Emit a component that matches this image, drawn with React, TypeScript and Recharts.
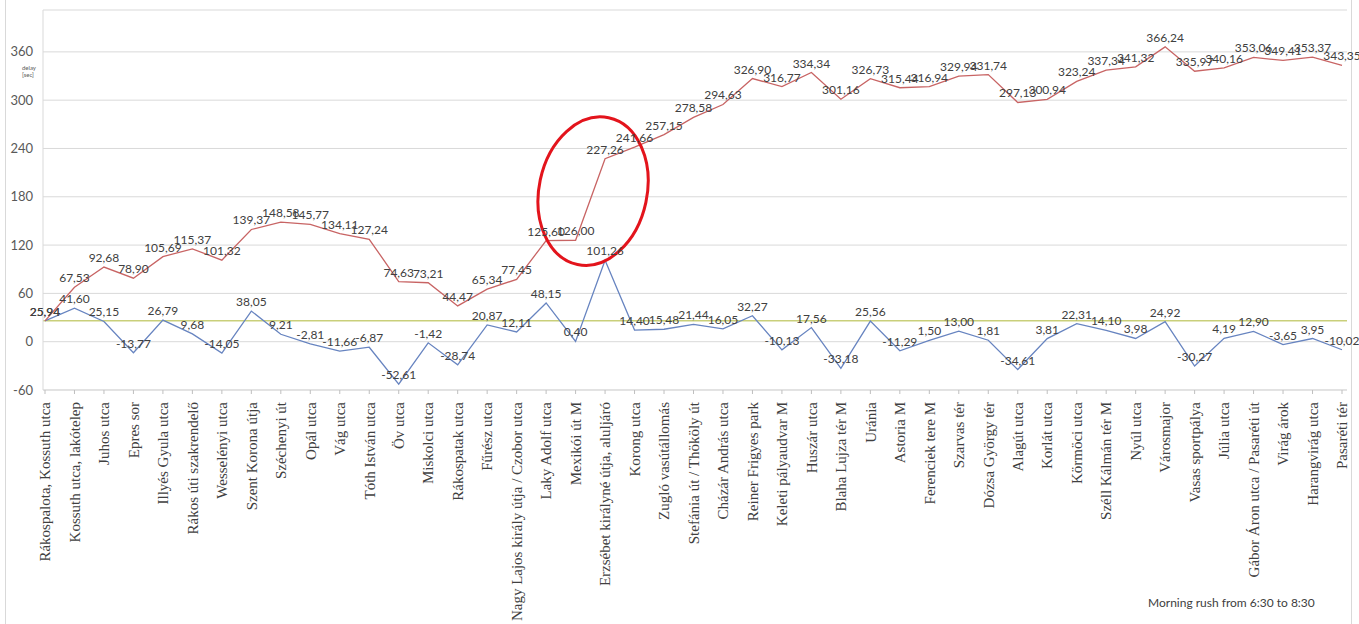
import { LineChart, Line, XAxis, YAxis, CartesianGrid, ReferenceLine, ReferenceDot, LabelList } from "recharts";

// megállók (stops) in order
const stops = [
  "Rákospalota, Kossuth utca",
  "Kossuth utca, lakótelep",
  "Juhos utca",
  "Epres sor",
  "Illyés Gyula utca",
  "Rákos úti szakrendelő",
  "Wesselényi utca",
  "Szent Korona útja",
  "Széchenyi út",
  "Opál utca",
  "Vág utca",
  "Tóth István utca",
  "Öv utca",
  "Miskolci utca",
  "Rákospatak utca",
  "Fűrész utca",
  "Nagy Lajos király útja / Czobor utca",
  "Laky Adolf utca",
  "Mexikói út M",
  "Erzsébet királyné útja, aluljáró",
  "Korong utca",
  "Zugló vasútállomás",
  "Stefánia út / Thököly út",
  "Cházár András utca",
  "Reiner Frigyes park",
  "Keleti pályaudvar M",
  "Huszár utca",
  "Blaha Lujza tér M",
  "Uránia",
  "Astoria M",
  "Ferenciek tere M",
  "Szarvas tér",
  "Dózsa György tér",
  "Alagút utca",
  "Korlát utca",
  "Körmöci utca",
  "Széll Kálmán tér M",
  "Nyúl utca",
  "Városmajor",
  "Vasas sportpálya",
  "Júlia utca",
  "Gábor Áron utca / Pasaréti út",
  "Virág árok",
  "Harangvirág utca",
  "Pasaréti tér",
];

// delay per section (sec)
const sectionDelay = [
  25.94, 41.6, 25.15, -13.77, 26.79, 9.68, -14.05, 38.05, 9.21, -2.81, -11.66, -6.87, -52.61, -1.42, -28.74,
  20.87, 12.11, 48.15, 0.4, 101.26, 14.4, 15.48, 21.44, 16.05, 32.27, -10.13, 17.56, -33.18, 25.56, -11.29,
  1.5, 13.0, 1.81, -34.61, 3.81, 22.31, 14.1, 3.98, 24.92, -30.27, 4.19, 12.9, -3.65, 3.95, -10.02,
];

// cumulated delay (sec)
const totalDelay = [
  25.94, 67.53, 92.68, 78.9, 105.69, 115.37, 101.32, 139.37, 148.58, 145.77, 134.11, 127.24, 74.63, 73.21, 44.47,
  65.34, 77.45, 125.6, 126.0, 227.26, 241.66, 257.15, 278.58, 294.63, 326.9, 316.77, 334.34, 301.16, 326.73, 315.44,
  316.94, 329.94, 331.74, 297.13, 300.94, 323.24, 337.34, 341.32, 366.24, 335.97, 340.16, 353.06, 349.41, 353.37, 343.35,
];

const yTicks = [-60, 0, 60, 120, 180, 240, 300, 360];

const data = stops.map((name, i) => ({
  name,
  section: sectionDelay[i],
  total: totalDelay[i],
}));

const fmt = (v: any) => Number(v).toFixed(2).replace(".", ",");

const StopTick = (props: any) => {
  const { x, y, payload } = props;
  return (
    <g transform={`translate(${x},${y + 6})`}>
      <text
        transform="rotate(-90)"
        textAnchor="end"
        dy="0.35em"
        fontFamily="'Liberation Serif', serif"
        fontSize={15}
        fill="#404040"
      >
        {payload.value}
      </text>
    </g>
  );
};

const Ellipse = (props: any) => {
  const cx = props.cx - 12;
  const cy = props.cy;
  return (
    <ellipse
      cx={cx}
      cy={cy}
      rx={54}
      ry={75}
      transform={`rotate(12 ${cx} ${cy})`}
      fill="none"
      stroke="#e3141c"
      strokeWidth={3}
    />
  );
};

export default function App() {
  return (
    <div style={{ position: "absolute", left: 0, top: 0, width: 1359, height: 624, background: "#fff", fontFamily: "Lato, sans-serif" }}>
      <div style={{ position: "absolute", left: 5, top: 0, width: 1345, height: 624, borderLeft: "1px solid #d9d9d9", borderRight: "1px solid #d9d9d9" }} />
      <LineChart width={1359} height={624} data={data} margin={{ top: 10, right: 12, left: 0, bottom: 0 }}>
        <CartesianGrid vertical={false} stroke="#d9d9d9" />
        <XAxis
          dataKey="name"
          scale="point"
          padding={{ left: 2, right: 5 }}
          interval={0}
          height={234}
          tick={<StopTick />}
          tickSize={4}
          axisLine={{ stroke: "#d9d9d9" }}
          tickLine={{ stroke: "#bfbfbf" }}
        />
        <YAxis
          domain={[-60, 412]}
          ticks={yTicks}
          width={43}
          tickLine={false}
          axisLine={{ stroke: "#d9d9d9" }}
          tick={{ fontSize: 13, fill: "#595959", fontFamily: "Lato, sans-serif" }}
          tickMargin={4}
        />
        <ReferenceLine y={totalDelay[0]} stroke="#c9cf7a" strokeWidth={1.5} />
        <Line
          type="linear"
          dataKey="section"
          stroke="#6784c0"
          strokeWidth={1.3}
          dot={false}
          isAnimationActive={false}
        >
          <LabelList dataKey="section" position="top" formatter={fmt} fill="#404040" fontSize={12} fontFamily="Lato, sans-serif" />
        </Line>
        <Line
          type="linear"
          dataKey="total"
          stroke="#c86464"
          strokeWidth={1.3}
          dot={false}
          isAnimationActive={false}
        >
          <LabelList dataKey="total" position="top" formatter={fmt} fill="#404040" fontSize={12} fontFamily="Lato, sans-serif" />
        </Line>
        <ReferenceDot
          x="Erzsébet királyné útja, aluljáró"
          y={187}
          ifOverflow="visible"
          shape={<Ellipse />}
        />
      </LineChart>
      <div style={{ position: "absolute", left: 22, top: 64, fontSize: 6, lineHeight: "7px", color: "#595959" }}>
        delay
        <br />
        [sec]
      </div>
      <div style={{ position: "absolute", left: 1148, top: 595, fontSize: 12, color: "#404040" }}>
        Morning rush from 6:30 to 8:30
      </div>
    </div>
  );
}
